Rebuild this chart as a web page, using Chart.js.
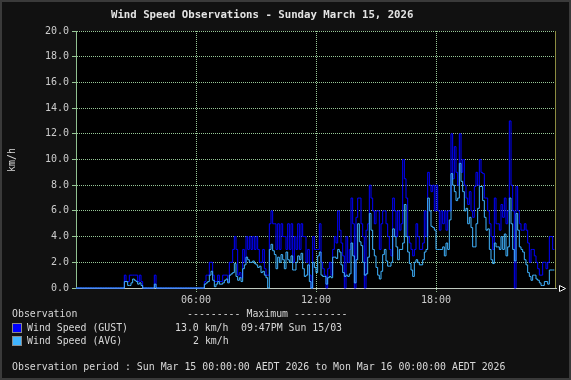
<!DOCTYPE html>
<html>
<head>
<meta charset="utf-8">
<script src="https://cdn.jsdelivr.net/npm/chart.js@4/dist/chart.umd.min.js"></script>
<style>
html,body{margin:0;padding:0;background:#111;}
#wrap{position:relative;width:571px;height:380px;background:#111;overflow:hidden;font-family:"DejaVu Sans Mono",monospace;color:#d8d8d8;}
#frame{position:absolute;left:0;top:0;width:571px;height:380px;box-sizing:border-box;border:2px solid #3a3a3a;pointer-events:none;}
canvas{position:absolute;left:0;top:0;}
.t{position:absolute;white-space:pre;font-size:9.9px;line-height:12px;color:#d8d8d8;}
.sq{position:absolute;width:8px;height:8px;border:1px solid #8a8a8a;}
</style>
</head>
<body>
<div id="wrap">
  <canvas id="c" width="571" height="380"></canvas>
  <div id="frame"></div>
  <div class="t" id="title" style="left:111px;top:9px;font-size:10.7px;font-weight:bold;color:#e4e4e4;"></div>
  <div class="t" id="ylab" style="left:-3px;top:154px;width:30px;text-align:center;transform:rotate(-90deg);"></div>
  <div class="t" style="left:12px;top:308px;">Observation</div>
  <div class="t" style="left:187px;top:308px;">--------- Maximum ---------</div>
  <div class="sq" style="left:12px;top:323px;background:#0000ff;"></div>
  <div class="t" style="left:27px;top:322px;">Wind Speed (GUST)</div>
  <div class="t" style="left:175px;top:322px;">13.0 km/h</div>
  <div class="t" style="left:241px;top:322px;">09:47PM Sun 15/03</div>
  <div class="sq" style="left:12px;top:336px;background:#40b4ff;"></div>
  <div class="t" style="left:27px;top:335px;">Wind Speed (AVG)</div>
  <div class="t" style="left:193px;top:335px;">2 km/h</div>
  <div class="t" style="left:12px;top:361px;">Observation period : Sun Mar 15 00:00:00 AEDT 2026 to Mon Mar 16 00:00:00 AEDT 2026</div>
</div>
<script>
// ---- data (5-minute observations, 00:00 -> 23:55) ----
const titleText = "Wind Speed Observations - Sunday March 15, 2026";
const yAxisLabel = "km/h";
const intervalMinutes = 5;
const timeTickMinutes = [360, 720, 1080];
const timeTickLabels = ["06:00", "12:00", "18:00"];
const yTickMin = 0, yTickMax = 20, yTickStep = 2;

const gust = [
  0,0,0,0,0,0,0,0,0,0,0,0,
  0,0,0,0,0,0,0,0,0,0,0,0,
  0,0,0,0,0,0,1,0.5,0.5,1,1,1,
  1,1,0.5,1,0.5,0,0,0,0,0,0,0,
  1,0,0,0,0,0,0,0,0,0,0,0,
  0,0,0,0,0,0,0,0,0,0,0,0,
  0,0,0,0,0,0,0.5,1,1,2,2,1,
  0.5,0.5,1,0.5,0.5,1,1,1,0.5,2,2,3,
  4,3,1,1.2,0.8,3,2,4,3,4,3,4,
  3,4,3,2,2,3,1.5,1,1,5,6,5,
  5,3,5,3,5,4,4,3,5,3,5,2,
  4,3,5,3,5,4,4,2,3,1,0,4,
  3,3,3,5,2,1.5,1,0,1.5,2,1,3,
  4,3.5,6,4.5,3.5,2.5,0,4,2,3,7,5,
  0,5.5,7,7,5,4,0,4.5,5,8,7,6,
  5,6,6,3,5,6,6,5,4,3,2.5,7,
  6,4,6,4.5,5,10,8.5,7,4,3.5,3,2.5,
  3,5,4,3,3,3.5,6,4,9,8,7.5,8,
  6,8,6,4.5,6,5,6,4.5,6,6,12,8.5,
  11,9,8,12,9,10,8,7,6.5,7.5,6,5.5,
  7.9,9,8,10,9,8.9,7,7,6,5,4,3,
  7,5,5,4.5,6.5,5.5,7,5,6,13,8,6,
  0,7.9,6,5,4.5,4.5,5,4.5,3.5,2,3,3,
  2.5,2,1.5,1,1,2,2,1.5,2,4,4,3
];
const avg = [
  0,0,0,0,0,0,0,0,0,0,0,0,
  0,0,0,0,0,0,0,0,0,0,0,0,
  0,0,0,0,0,0,0.5,0.5,0.2,0.2,0.4,0.7,
  0.6,0.5,0.3,0.4,0.2,0,0,0,0,0,0,0,
  0.3,0,0,0,0,0,0,0,0,0,0,0,
  0,0,0,0,0,0,0,0,0,0,0,0,
  0,0,0,0,0,0,0.3,0.4,0.5,1.0,1.3,0.6,
  0.1,0.3,0.5,0.3,0.3,0.4,0.6,0.7,0.4,1.0,1.1,1.2,
  1.9,0.9,0.6,0.8,0.5,1.5,1.8,2.4,2.2,2.0,2.0,2.1,
  1.9,1.8,1.6,1.7,1.2,1.3,1.0,0.8,0,3.0,3.4,2.9,
  2.6,1.5,2.4,2.0,2.6,2.2,1.5,2.8,2.2,2.0,2.5,1.4,
  1.4,2.0,2.5,2.2,2.7,1.5,0.9,1.0,1.8,0.5,0,2.0,
  1.6,1.2,2.5,2.8,1.0,0.9,0.9,0.3,0.8,0.9,0.8,2.4,
  2.4,2.3,3.0,2.8,1.8,1.2,0.9,1.0,0.9,1.1,3.5,2.5,
  0.4,2.2,5.0,3.6,3.3,2.0,1.0,1.1,2.4,5.8,4.5,3.0,
  2.5,1.6,1.0,0.7,1.3,2.6,3.0,2.1,1.7,1.7,2.0,4.6,
  4.0,3.2,2.2,3.0,3.0,3.5,6.5,4.0,2.8,1.9,1.4,0.9,
  2.0,2.2,2.0,1.8,1.8,2.2,2.8,3.0,7.0,6.0,4.8,4.7,
  4.5,3.0,3.0,3.0,3.0,3.2,2.5,3.5,3.0,5.3,8.9,8.0,
  7.5,6.8,7.0,9.7,8.3,7.5,6.0,6.2,5.0,5.5,4.7,3.2,
  3.2,5.0,6.2,7.9,7.9,6.8,5.5,4.5,4.6,3.0,2.2,1.9,
  3.5,3.2,3.2,3.0,4.0,3.0,4.2,2.5,3.2,7.0,5.0,3.0,
  2.1,5.8,4.5,3.2,3.0,2.8,2.2,1.8,1.2,0.9,0.6,1.0,
  1.0,0.7,0.6,0.4,0.2,0.2,0.5,0.5,0.3,1.4,1.4,1.4
];

// ---- styles ----
const GUST_COLOR = "#0000ff";
const AVG_COLOR = "#40b4ff";
const GRID_COLOR = "#98c898";
const TEXT_COLOR = "#cccccc";

document.getElementById('title').textContent = titleText;
document.getElementById('ylab').textContent = yAxisLabel;

const toPts = arr => arr.map((v, i) => ({x: i * intervalMinutes, y: v}));

Chart.defaults.font.family = "'DejaVu Sans Mono', monospace";
Chart.defaults.font.size = 10;
Chart.defaults.color = TEXT_COLOR;

const decor = {
  id: 'decor',
  beforeDraw(chart) {
    const {ctx, chartArea: a} = chart;
    ctx.save();
    ctx.fillStyle = '#000';
    ctx.fillRect(a.left, a.top, a.right - a.left, a.bottom - a.top);
    ctx.restore();
  },
  afterDraw(chart) {
    const {ctx, chartArea: a} = chart;
    const xr = Math.round(chart.scales.x.getPixelForValue(1440)) - 0.5;
    ctx.save();
    ctx.strokeStyle = '#8c8c40';
    ctx.lineWidth = 1;
    ctx.beginPath();
    ctx.moveTo(xr, a.top);
    ctx.lineTo(xr, a.bottom);
    ctx.stroke();
    // axis arrow
    const yb = Math.round(a.bottom) + 0.5;
    ctx.strokeStyle = '#ffffff';
    ctx.fillStyle = '#000';
    ctx.beginPath();
    ctx.moveTo(a.right + 3.5, yb - 3);
    ctx.lineTo(a.right + 9.5, yb);
    ctx.lineTo(a.right + 3.5, yb + 3);
    ctx.closePath();
    ctx.fill();
    ctx.stroke();
    ctx.restore();
  }
};

new Chart(document.getElementById('c'), {
  type: 'line',
  data: {
    datasets: [
      {label: 'Wind Speed (AVG)', data: toPts(avg), borderColor: AVG_COLOR, borderWidth: 1,
       pointRadius: 0, stepped: 'after', fill: false, order: 0, clip: 3},
      {label: 'Wind Speed (GUST)', data: toPts(gust), borderColor: GUST_COLOR, borderWidth: 1,
       pointRadius: 0, stepped: 'after', fill: false, order: 1, clip: 3}
    ]
  },
  options: {
    responsive: false,
    animation: false,
    devicePixelRatio: 1,
    events: [],
    layout: {padding: {left: 0, top: 31, right: 15, bottom: 72}},
    plugins: {legend: {display: false}, tooltip: {enabled: false}, title: {display: false}},
    scales: {
      x: {
        type: 'linear', min: 0, max: 1440,
        ticks: {
          stepSize: 360, autoSkip: false, maxRotation: 0, padding: 2, color: TEXT_COLOR,
          callback: v => { const k = timeTickMinutes.indexOf(v); return k >= 0 ? timeTickLabels[k] : ''; }
        },
        grid: {
          color: c => (c.tick && timeTickMinutes.includes(c.tick.value)) ? GRID_COLOR : 'rgba(0,0,0,0)',
          tickColor: c => (c.tick && timeTickMinutes.includes(c.tick.value)) ? GRID_COLOR : 'rgba(0,0,0,0)',
          tickLength: 4, tickBorderDash: [1, 1]
        },
        border: {color: '#c0cac0', width: 1, dash: [1, 1]},
        afterFit: s => { s.height = 20; }
      },
      y: {
        min: yTickMin, max: yTickMax,
        ticks: {stepSize: yTickStep, padding: 3, color: TEXT_COLOR, callback: v => Number(v).toFixed(1)},
        grid: {
          color: c => (c.tick && c.tick.value === 0) ? 'rgba(0,0,0,0)' : GRID_COLOR,
          tickColor: GRID_COLOR,
          tickLength: 4
        },
        border: {color: '#90c090', width: 1, dash: [1, 1]},
        afterFit: s => { s.width = 76; }
      }
    }
  },
  plugins: [decor]
});
</script>
</body>
</html>
